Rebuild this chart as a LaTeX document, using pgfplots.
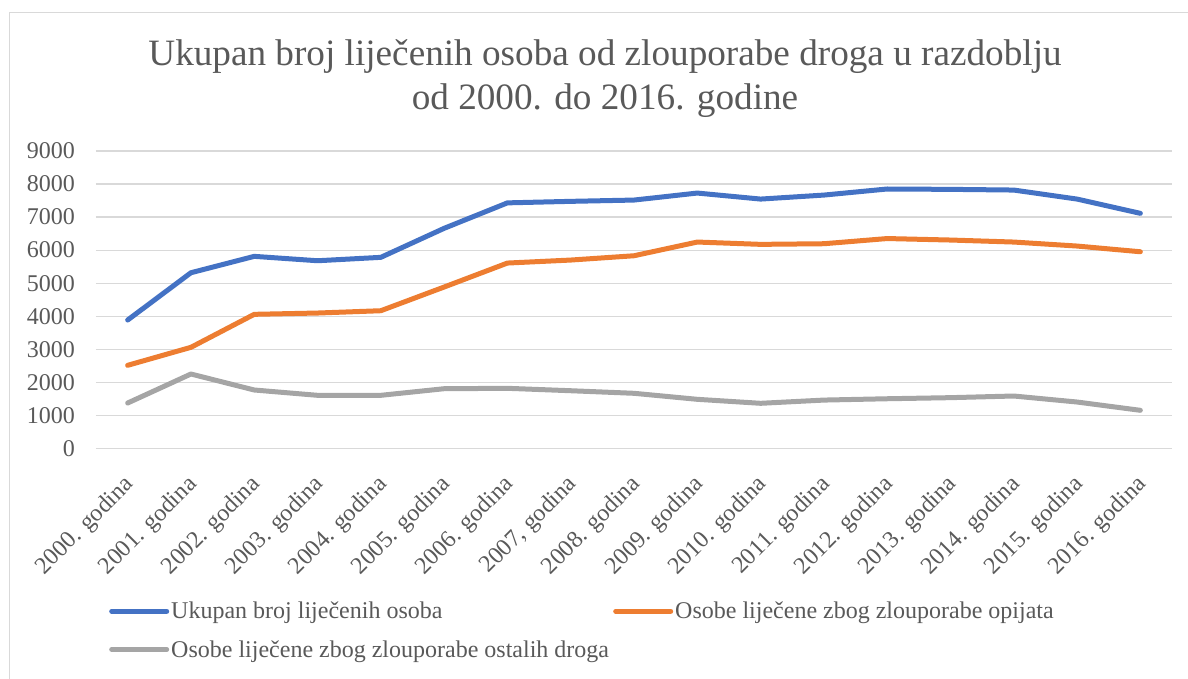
\documentclass[border=0pt]{standalone}
\usepackage{fontspec}
\setmainfont{Liberation Serif}
\usepackage{pgfplots}
\pgfplotsset{compat=1.18}
\definecolor{cblue}{HTML}{4472C4}
\definecolor{corange}{HTML}{ED7D31}
\definecolor{cgray}{HTML}{A5A5A5}
\definecolor{gridgray}{HTML}{D9D9D9}
\definecolor{txtgray}{HTML}{595959}
\begin{document}
\begin{tikzpicture}[x=1pt,y=1pt]
\useasboundingbox (0,0) rectangle (1188,678);
\begin{scope}
\clip (0,0) rectangle (1188,678);
\draw[gridgray, line width=1.2pt] (9.5,-20) rectangle (1200,665.5);
\end{scope}
\node[anchor=base, text=txtgray, font=\fontsize{37.2}{44}\selectfont] at (605,612.5) {Ukupan broj liječenih osoba od zlouporabe droga u razdoblju};
\node[anchor=base, text=txtgray, font=\fontsize{37.2}{44}\selectfont] at (605,568.7) {od 2000. do 2016. godine};
\begin{axis}[
  at={(96pt,229.7pt)}, anchor=south west,
  scale only axis, width=1076pt, height=297.3pt,
  xmin=-0.5, xmax=16.5, ymin=0, ymax=9000,
  axis line style={draw=none},
  tick style={draw=none},
  major tick length=0pt,
  ytick={0,1000,...,9000},
  ymajorgrids,
  grid style={draw=gridgray, line width=1.2pt},
  xtick={0,...,16},
  xticklabels={2000. godina,2001. godina,2002. godina,2003. godina,2004. godina,2005. godina,2006. godina,{2007, godina},2008. godina,2009. godina,2010. godina,2011. godina,2012. godina,2013. godina,2014. godina,2015. godina,2016. godina},
  xticklabel style={xshift=-5pt, yshift=-25pt, rotate=45, anchor=north east, inner sep=0pt},
  yticklabel style={anchor=east, inner sep=0pt, xshift=-21pt},
  ticklabel style={font=\fontsize{24}{24}\selectfont, text=txtgray},
  /pgf/number format/assume math mode=true,
  /pgf/number format/1000 sep={},
  scaled y ticks=false,
  clip=false,
  legend columns=2,
  legend cell align=left,
  legend image code/.code={\draw[#1, line cap=round] (0pt,0pt) -- (55pt,0pt);},
  legend style={draw=none, fill=none, at={(0,0)}, anchor=west, xshift=13pt, yshift=-182pt,
    font=\fontsize{24}{24}\selectfont, text=txtgray, inner sep=0pt, row sep=16pt},
]
\addplot[cblue, line width=5pt, line join=round, line cap=round] coordinates {
(0,3883) (1,5315) (2,5811) (3,5678) (4,5781) (5,6659) (6,7430) (7,7476) (8,7515) (9,7727) (10,7545) (11,7666) (12,7850) (13,7839) (14,7818) (15,7545) (16,7113)};
\addlegendentry{\makebox[440pt][l]{Ukupan broj liječenih osoba}}
\addplot[corange, line width=5pt, line join=round, line cap=round] coordinates {
(0,2512) (1,3057) (2,4056) (3,4095) (4,4165) (5,4882) (6,5608) (7,5699) (8,5829) (9,6244) (10,6174) (11,6193) (12,6350) (13,6305) (14,6244) (15,6123) (16,5950)};
\addlegendentry{Osobe liječene zbog zlouporabe opijata}
\addplot[cgray, line width=5pt, line join=round, line cap=round] coordinates {
(0,1371) (1,2249) (2,1765) (3,1604) (4,1604) (5,1804) (6,1816) (7,1743) (8,1665) (9,1483) (10,1362) (11,1460) (12,1500) (13,1533) (14,1583) (15,1401) (16,1150)};
\addlegendentry{\makebox[440pt][l]{Osobe liječene zbog zlouporabe ostalih droga}}
\end{axis}
\end{tikzpicture}
\end{document}
